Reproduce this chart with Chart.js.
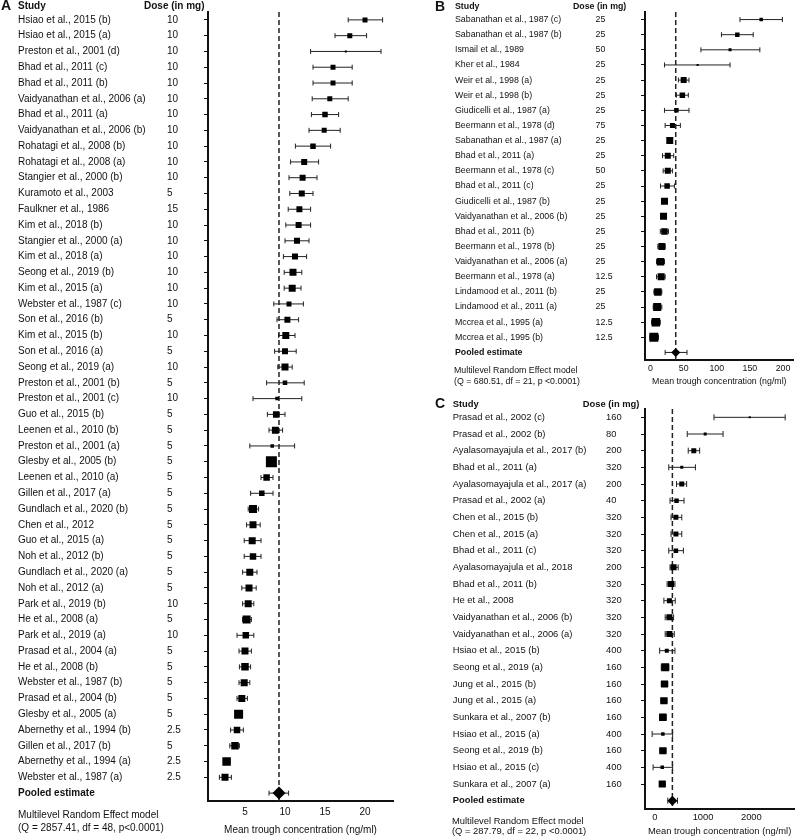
<!DOCTYPE html>
<html>
<head>
<meta charset="utf-8">
<script src="https://cdn.jsdelivr.net/npm/chart.js@4.4.0/dist/chart.umd.min.js"></script>
<style>
  html, body { margin: 0; padding: 0; background: #fff; }
  #wrap { position: relative; width: 800px; height: 837px; }
  #wrap canvas { position: absolute; left: 0; top: 0; }
</style>
</head>
<body>
<div id="wrap">
  <canvas id="chartA" width="800" height="837"></canvas>
  <canvas id="chartB" width="800" height="837"></canvas>
  <canvas id="chartC" width="800" height="837"></canvas>
</div>
<script>
// ---- panel A ----
const studiesA = ["Hsiao et al., 2015 (b)", "Hsiao et al., 2015 (a)", "Preston et al., 2001 (d)", "Bhad et al., 2011 (c)",
  "Bhad et al., 2011 (b)", "Vaidyanathan et al., 2006 (a)", "Bhad et al., 2011 (a)", "Vaidyanathan et al., 2006 (b)",
  "Rohatagi et al., 2008 (b)", "Rohatagi et al., 2008 (a)", "Stangier et al., 2000 (b)", "Kuramoto et al., 2003",
  "Faulkner et al., 1986", "Kim et al., 2018 (b)", "Stangier et al., 2000 (a)", "Kim et al., 2018 (a)",
  "Seong et al., 2019 (b)", "Kim et al., 2015 (a)", "Webster et al., 1987 (c)", "Son et al., 2016 (b)",
  "Kim et al., 2015 (b)", "Son et al., 2016 (a)", "Seong et al., 2019 (a)", "Preston et al., 2001 (b)",
  "Preston et al., 2001 (c)", "Guo et al., 2015 (b)", "Leenen et al., 2010 (b)", "Preston et al., 2001 (a)",
  "Glesby et al., 2005 (b)", "Leenen et al., 2010 (a)", "Gillen et al., 2017 (a)", "Gundlach et al., 2020 (b)",
  "Chen et al., 2012", "Guo et al., 2015 (a)", "Noh et al., 2012 (b)", "Gundlach et al., 2020 (a)",
  "Noh et al., 2012 (a)", "Park et al., 2019 (b)", "He et al., 2008 (a)", "Park et al., 2019 (a)",
  "Prasad et al., 2004 (a)", "He et al., 2008 (b)", "Webster et al., 1987 (b)", "Prasad et al., 2004 (b)",
  "Glesby et al., 2005 (a)", "Abernethy et al., 1994 (b)", "Gillen et al., 2017 (b)", "Abernethy et al., 1994 (a)",
  "Webster et al., 1987 (a)"];
const dosesA = [10, 10, 10, 10, 10, 10, 10, 10, 10, 10, 10, 5, 15, 10, 10, 10, 10, 10, 10, 5, 10, 5, 10, 5, 10,
  5, 5, 5, 5, 5, 5, 5, 5, 5, 5, 5, 5, 10, 5, 10, 5, 5, 5, 5, 5, 2.5, 5, 2.5, 2.5];
const meanA = [20.0, 18.1, 17.6, 16.0, 16.0, 15.6, 15.0, 14.9, 13.5, 12.4, 12.2, 12.1, 11.8, 11.7, 11.5, 11.25,
  11.0, 10.9, 10.5, 10.3, 10.1, 10.0, 10.0, 10.0, 9.0, 8.9, 8.8, 8.4, 8.3, 7.7, 7.1, 6.0, 6.0, 5.9, 6.0, 5.6,
  5.5, 5.4, 5.2, 5.1, 5.0, 5.0, 4.9, 4.6, 4.2, 4.0, 3.75, 2.7, 2.5];
const lowA = [17.9, 16.25, 13.2, 13.5, 13.5, 13.4, 13.3, 13.0, 11.3, 10.7, 10.5, 10.6, 10.4, 10.1, 10.0, 9.8,
  9.9, 9.9, 8.6, 9.0, 9.2, 8.7, 9.1, 7.7, 6.0, 7.8, 8.0, 5.6, 7.8, 7.0, 5.7, 5.4, 5.2, 4.9, 4.9, 4.7,
  4.6, 4.7, 4.7, 4.0, 4.25, 4.3, 4.25, 4.0, 3.9, 3.2, 3.1, 2.3, 1.8];
const highA = [22.2, 20.2, 22.0, 18.4, 18.4, 17.9, 16.7, 16.9, 15.7, 14.2, 14.0, 13.5, 13.2, 13.2, 13.0, 12.7,
  12.1, 12.0, 12.3, 11.7, 11.25, 11.4, 10.9, 12.4, 12.1, 10.0, 9.7, 11.2, 8.8, 8.5, 8.5, 6.7, 6.9, 7.0, 7.0, 6.5,
  6.4, 6.1, 5.8, 6.1, 5.8, 5.7, 5.6, 5.3, 4.5, 4.8, 4.3, 3.1, 3.3];
const weightA = [5, 5, 2, 5, 5, 5, 5.5, 5, 5.5, 6, 6, 6, 6, 6, 6, 6, 7, 7, 5, 6, 7, 6, 7, 4.5, 3.5, 6.5, 7, 3.5,
  11, 6.5, 5.5, 8, 7, 7, 6.5, 7, 7, 7, 8, 6.5, 7, 7.5, 7, 7, 9, 6.5, 7.5, 8.5, 7];
const pooledA = [9.25, 8.0, 10.45];
const xTicksA = [5, 10, 15, 20];

// ---- panel B ----
const studiesB = ["Sabanathan et al., 1987 (c)", "Sabanathan et al., 1987 (b)", "Ismail et al., 1989", "Kher et al., 1984",
  "Weir et al., 1998 (a)", "Weir et al., 1998 (b)", "Giudicelli et al., 1987 (a)", "Beermann et al., 1978 (d)",
  "Sabanathan et al., 1987 (a)", "Bhad et al., 2011 (a)", "Beermann et al., 1978 (c)", "Bhad et al., 2011 (c)",
  "Giudicelli et al., 1987 (b)", "Vaidyanathan et al., 2006 (b)", "Bhad et al., 2011 (b)", "Beermann et al., 1978 (b)",
  "Vaidyanathan et al., 2006 (a)", "Beermann et al., 1978 (a)", "Lindamood et al., 2011 (b)", "Lindamood et al., 2011 (a)",
  "Mccrea et al., 1995 (a)", "Mccrea et al., 1995 (b)"];
const dosesB = [25, 25, 50, 25, 25, 25, 25, 75, 25, 25, 50, 25, 25, 25, 25, 25, 25, 12.5, 25, 25, 12.5, 12.5];
const meanB = [167, 131, 120, 71, 50, 48, 39, 33, 29, 26, 26, 25, 21, 19.6, 21, 17, 15, 16, 11, 10, 8, 5];
const lowB = [135, 107, 76, 21, 42, 39, 21, 22, 26, 18, 19, 15, 17, 15, 14.7, 11, 9, 9, 5, 4, 1.5, -1];
const highB = [199, 155, 165, 120, 58, 57, 58, 45, 32, 35, 33, 36, 25, 24, 27, 22, 21, 22, 17, 17, 14.7, 12];
const weightB = [3.5, 4.5, 3, 2, 6, 5.5, 4.5, 5, 7, 6, 6, 5.5, 7, 7, 6.5, 7, 7.5, 7, 7.5, 8, 8.5, 9];
const pooledB = [38, 22, 55];
const xTicksB = [0, 50, 100, 150, 200];

// ---- panel C ----
const studiesC = ["Prasad et al., 2002 (c)", "Prasad et al., 2002 (b)", "Ayalasomayajula et al., 2017 (b)", "Bhad et al., 2011 (a)",
  "Ayalasomayajula et al., 2017 (a)", "Prasad et al., 2002 (a)", "Chen et al., 2015 (b)", "Chen et al., 2015 (a)",
  "Bhad et al., 2011 (c)", "Ayalasomayajula et al., 2018", "Bhad et al., 2011 (b)", "He et al., 2008",
  "Vaidyanathan et al., 2006 (b)", "Vaidyanathan et al., 2006 (a)", "Hsiao et al., 2015 (b)", "Seong et al., 2019 (a)",
  "Jung et al., 2015 (b)", "Jung et al., 2015 (a)", "Sunkara et al., 2007 (b)", "Hsiao et al., 2015 (a)",
  "Seong et al., 2019 (b)", "Hsiao et al., 2015 (c)", "Sunkara et al., 2007 (a)"];
const dosesC = [160, 80, 200, 320, 200, 40, 320, 320, 320, 200, 320, 320, 320, 320, 400, 160, 160, 160, 160, 400, 160, 400, 160];
const meanC = [1966, 1044, 808, 559, 559, 451, 438, 438, 438, 390, 337, 303, 303, 303, 249, 216, 202, 189, 168, 168, 168, 155, 155];
const lowC = [1226, 673, 693, 290, 451, 316, 337, 337, 290, 316, 256, 189, 216, 216, 101, 135, 135, 125, 100, -54, 105, -34, 95];
const highC = [2700, 1414, 929, 842, 660, 606, 559, 559, 593, 485, 418, 424, 390, 404, 418, 290, 270, 255, 235, 370, 235, 370, 215];
const weightC = [2, 3, 5, 3, 5, 4.5, 5, 5, 4.5, 6, 6, 5, 6, 6, 4, 8, 7, 7, 7.5, 3.5, 7, 3.5, 7];
const pooledC = [365, 270, 470];
const xTicksC = [0, 1000, 2000];

const FONT = "'Liberation Sans', Arial, Helvetica, sans-serif";
Chart.defaults.font.family = FONT;
Chart.defaults.color = '#111';

makePanel = (id, d, look) => {
  const n = d.studies.length;
  const labels = d.studies.concat(['Pooled estimate']);

  const forestPlugin = {
    id: 'forest_' + id,
    beforeDatasetsDraw(chart) {
      const {ctx, chartArea, scales: {x, y}} = chart;
      ctx.save();
      ctx.strokeStyle = '#222';
      // dashed line at the pooled estimate
      const xp = x.getPixelForValue(d.pooled[0]);
      ctx.lineWidth = 1.5;
      ctx.setLineDash([5, 3]);
      ctx.beginPath();
      ctx.moveTo(xp, chartArea.top);
      ctx.lineTo(xp, chartArea.bottom);
      ctx.stroke();
      ctx.setLineDash([]);
      // confidence intervals with end caps
      ctx.lineWidth = 1;
      const lows = d.low.concat([d.pooled[1]]);
      const highs = d.high.concat([d.pooled[2]]);
      for (let i = 0; i < lows.length; i++) {
        const yp = y.getPixelForValue(i);
        const x1 = x.getPixelForValue(lows[i]);
        const x2 = x.getPixelForValue(highs[i]);
        ctx.beginPath();
        ctx.moveTo(x1, yp); ctx.lineTo(x2, yp);
        ctx.moveTo(x1, yp - look.cap); ctx.lineTo(x1, yp + look.cap);
        ctx.moveTo(x2, yp - look.cap); ctx.lineTo(x2, yp + look.cap);
        ctx.stroke();
      }
      ctx.restore();
    },
    afterDraw(chart) {
      const {ctx, scales: {y}} = chart;
      ctx.save();
      ctx.fillStyle = '#111';
      ctx.textBaseline = 'middle';
      ctx.textAlign = 'left';
      ctx.font = `bold ${look.letterSize}px ${FONT}`;
      ctx.fillText(look.letter, look.letterX, look.headY);
      ctx.font = `bold ${look.fs}px ${FONT}`;
      ctx.fillText('Study', look.nameX, look.headY);
      ctx.fillText('Dose (in mg)', look.doseHeadX, look.headY);
      ctx.fillText('Pooled estimate', look.nameX, y.getPixelForValue(n));
      ctx.font = `${look.fs}px ${FONT}`;
      d.studies.forEach((s, i) => {
        const yp = y.getPixelForValue(i);
        ctx.fillText(s, look.nameX, yp);
        ctx.fillText(String(d.doses[i]), look.doseX, yp);
      });
      ctx.fillText('Multilevel Random Effect model', look.noteX, look.noteY[0]);
      ctx.fillText(d.model, look.noteX, look.noteY[1]);
      ctx.restore();
    }
  };

  return new Chart(document.getElementById(id), {
    type: 'scatter',
    data: {
      labels: labels,
      datasets: [{
        data: d.mean.map((v, i) => ({x: v, y: d.studies[i]})),
        pointStyle: 'rect',
        pointRadius: d.weight.map(w => w * 0.7071),
        pointHoverRadius: d.weight.map(w => w * 0.7071),
        backgroundColor: '#000',
        borderWidth: 0
      }, {
        data: [{x: d.pooled[0], y: 'Pooled estimate'}],
        pointStyle: 'rectRot',
        pointRadius: look.diamond,
        pointHoverRadius: look.diamond,
        backgroundColor: '#000',
        borderWidth: 0
      }]
    },
    options: {
      responsive: false,
      animation: false,
      events: [],
      layout: {padding: look.pad},
      plugins: {legend: {display: false}, tooltip: {enabled: false}},
      scales: {
        x: {
          type: 'linear',
          min: look.xMin,
          max: look.xMax,
          afterBuildTicks: s => { s.ticks = d.xTicks.map(v => ({value: v})); },
          afterFit: s => { s.height = look.xHeight; },
          grid: {display: false, drawTicks: false},
          border: {color: '#111', width: 2},
          ticks: {
            font: {size: look.fs},
            color: '#111',
            padding: look.tickPad,
            maxRotation: 0,
            autoSkip: false,
            callback: v => String(v)
          },
          title: {
            display: true,
            text: 'Mean trough concentration (ng/ml)',
            font: {size: look.fs},
            color: '#111',
            padding: {top: 0, bottom: look.titlePad}
          }
        },
        y: {
          type: 'category',
          labels: labels,
          offset: true,
          afterFit: s => { s.width = 4; },
          ticks: {display: false},
          grid: {
            drawOnChartArea: false,
            drawTicks: true,
            tickLength: 4,
            color: c => c.index === n ? 'rgba(0,0,0,0)' : '#111'
          },
          border: {color: '#111', width: 2}
        }
      }
    },
    plugins: [forestPlugin]
  });
}

makePanel('chartA',
  {studies: studiesA, doses: dosesA, mean: meanA, low: lowA, high: highA, weight: weightA,
   pooled: pooledA, xTicks: xTicksA, model: '(Q = 2857.41, df = 48, p<0.0001)'},
  {fs: 10, letter: 'A', letterSize: 14, letterX: 1, headY: 6, nameX: 18, doseX: 167, doseHeadX: 144,
   noteX: 18, noteY: [815, 828.5], cap: 2.5, diamond: 6.5,
   xMin: 0.375, xMax: 23.5, xHeight: 36, tickPad: 5, titlePad: 1,
   pad: {left: 204, top: 12, right: 407, bottom: 0}});

makePanel('chartB',
  {studies: studiesB, doses: dosesB, mean: meanB, low: lowB, high: highB, weight: weightB,
   pooled: pooledB, xTicks: xTicksB, model: '(Q = 680.51, df = 21, p <0.0001)'},
  {fs: 8.8, letter: 'B', letterSize: 14, letterX: 435, headY: 7, nameX: 455, doseX: 595.5, doseHeadX: 573,
   noteX: 454, noteY: [371, 382], cap: 2.5, diamond: 4.5,
   xMin: -8.4, xMax: 216, xHeight: 30, tickPad: 3, titlePad: 3,
   pad: {left: 641, top: 12, right: 2, bottom: 447}});

makePanel('chartC',
  {studies: studiesC, doses: dosesC, mean: meanC, low: lowC, high: highC, weight: weightC,
   pooled: pooledC, xTicks: xTicksC, model: '(Q = 287.79, df = 22, p <0.0001)'},
  {fs: 9.4, letter: 'C', letterSize: 14, letterX: 435, headY: 404, nameX: 452.7, doseX: 606, doseHeadX: 582.7,
   noteX: 452, noteY: [821, 831.5], cap: 3, diamond: 5,
   xMin: -202, xMax: 2890, xHeight: 28, tickPad: 3, titlePad: 0,
   pad: {left: 641, top: 409, right: 2, bottom: 0}});
</script>
</body>
</html>
